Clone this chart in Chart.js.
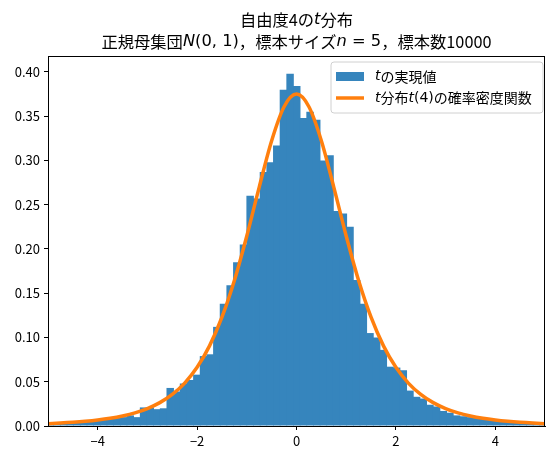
<!DOCTYPE html>
<html>
<head>
<meta charset="utf-8">
<script src="https://cdn.jsdelivr.net/npm/chart.js@4/dist/chart.umd.min.js"></script>
<style>
html,body{margin:0;padding:0;background:#fff;}
#wrap{width:553px;height:458px;position:relative;}
</style>
</head>
<body>
<div id="wrap"><canvas id="c" width="553" height="458"></canvas></div>
<script>
// ---- data ----
const binCenters = [-4.953,-4.819,-4.685,-4.551,-4.417,-4.283,-4.149,-4.015,-3.881,-3.747,
  -3.613,-3.479,-3.345,-3.211,-3.077,-2.943,-2.809,-2.675,-2.541,-2.407,
  -2.273,-2.139,-2.005,-1.871,-1.737,-1.603,-1.469,-1.335,-1.201,-1.067,
  -0.933,-0.799,-0.665,-0.531,-0.397,-0.263,-0.129,0.005,0.139,0.273,
  0.407,0.541,0.675,0.809,0.943,1.077,1.211,1.345,1.479,1.613,
  1.747,1.881,2.015,2.149,2.283,2.417,2.551,2.685,2.819,2.953,
  3.087,3.221,3.355,3.489,3.623,3.757,3.891,4.025,4.159,4.293,
  4.427,4.561,4.695,4.829,4.963];
const histDensity = [0.003,0.003,0.004,0.004,0.005,0.004,0.006,0.006,0.007,0.008,
  0.009,0.010,0.012,0.010,0.021,0.021,0.019,0.020,0.043,0.039,
  0.048,0.052,0.058,0.079,0.081,0.112,0.138,0.159,0.185,0.205,
  0.260,0.257,0.287,0.298,0.317,0.380,0.398,0.384,0.348,0.355,
  0.346,0.300,0.306,0.243,0.240,0.225,0.165,0.138,0.105,0.100,
  0.086,0.067,0.066,0.063,0.040,0.033,0.031,0.024,0.022,0.017,
  0.015,0.012,0.011,0.010,0.009,0.008,0.007,0.006,0.006,0.005,
  0.005,0.004,0.004,0.003,0.003];
const curveX = [-5,-4.75,-4.5,-4.25,-4,-3.75,-3.5,-3.25,-3,-2.75,-2.5,-2.25,-2,-1.75,-1.5,-1.25,-1,-0.75,-0.5,-0.25,
  0,0.25,0.5,0.75,1,1.25,1.5,1.75,2,2.25,2.5,2.75,3,3.25,3.5,3.75,4,4.25,4.5,4.75,5];
const curveY = [0.00265,0.00330,0.00414,0.00525,0.00671,0.00866,0.0113,0.0148,0.0197,0.0264,0.0357,0.0485,0.0663,0.0905,0.1229,0.1644,0.2147,0.2699,0.3223,0.3607,
  0.375,0.3607,0.3223,0.2699,0.2147,0.1644,0.1229,0.0905,0.0663,0.0485,0.0357,0.0264,0.0197,0.0148,0.0113,0.00866,0.00671,0.00525,0.00414,0.00330,0.00265];
const xTicks = [-4,-2,0,2,4];
const yTicks = [0,0.05,0.10,0.15,0.20,0.25,0.30,0.35,0.40];
const seriesLabels = ["tの実現値","t分布t(4)の確率密度関数"];
// rich-text runs: [text, style]  style: 'jp' | 'mi' (math italic) | 'mr' (math roman)
const titleLine1 = [["自由度4の","jp"],["t","mi"],["分布","jp"]];
const titleLine2 = [["正規母集団","jp"],["N","mi"],["(0, 1)","mr"],["，標本サイズ","jp"],["n","mi"],[" = 5","mr"],["，標本数10000","jp"]];
const legendRuns = [
  [["t","mi"],["の実現値","jp"]],
  [["t","mi"],["分布","jp"],["t","mi"],["(4)","mr"],["の確率密度関数","jp"]]
];

const BAR_COLOR = "rgb(54,133,189)";
const LINE_COLOR = "#ff7f0e";
const JP = '"Noto Sans CJK JP", "DejaVu Sans", sans-serif';

function fontFor(style, size){
  if (style === "mi") return "italic " + size + "px \"DejaVu Sans\"";
  if (style === "mr") return size + "px \"DejaVu Sans\"";
  return size + "px " + JP;
}
function drawRuns(ctx, runs, x, y, size, align){
  let total = 0;
  const widths = runs.map(r => { ctx.font = fontFor(r[1], size); const w = ctx.measureText(r[0]).width; total += w; return w; });
  let cx = align === "center" ? x - total/2 : x;
  ctx.textBaseline = "middle";
  ctx.textAlign = "left";
  runs.forEach((r,i) => { ctx.font = fontFor(r[1], size); ctx.fillText(r[0], cx, y); cx += widths[i]; });
}

const decor = {
  id: "decor",
  afterDraw(chart){
    const ctx = chart.ctx, a = chart.chartArea;
    ctx.save();
    // frame
    ctx.strokeStyle = "#000"; ctx.lineWidth = 1;
    ctx.strokeRect(Math.round(a.left)+0.5, Math.round(a.top)+0.5, Math.round(a.right-a.left)-1, Math.round(a.bottom-a.top));
    // title
    ctx.fillStyle = "#000";
    const cx = (a.left + a.right)/2;
    drawRuns(ctx, titleLine1, cx, 20, 16.3, "center");
    drawRuns(ctx, titleLine2, cx, 42, 16.3, "center");
    // legend
    const lx = 331, ly = 62, lw = 212, lh = 51, r = 3;
    ctx.beginPath();
    ctx.moveTo(lx+r, ly); ctx.lineTo(lx+lw-r, ly); ctx.quadraticCurveTo(lx+lw, ly, lx+lw, ly+r);
    ctx.lineTo(lx+lw, ly+lh-r); ctx.quadraticCurveTo(lx+lw, ly+lh, lx+lw-r, ly+lh);
    ctx.lineTo(lx+r, ly+lh); ctx.quadraticCurveTo(lx, ly+lh, lx, ly+lh-r);
    ctx.lineTo(lx, ly+r); ctx.quadraticCurveTo(lx, ly, lx+r, ly);
    ctx.closePath();
    ctx.fillStyle = "rgba(255,255,255,0.8)"; ctx.fill();
    ctx.strokeStyle = "#d0d0d0"; ctx.lineWidth = 1; ctx.stroke();
    ctx.fillStyle = BAR_COLOR;
    ctx.fillRect(336, 72, 28, 9);
    ctx.strokeStyle = LINE_COLOR; ctx.lineWidth = 3.5; ctx.lineCap = "butt";
    ctx.beginPath(); ctx.moveTo(336, 98); ctx.lineTo(364, 98); ctx.stroke();
    ctx.fillStyle = "#000";
    drawRuns(ctx, legendRuns[0], 375, 76.5, 14, "left");
    drawRuns(ctx, legendRuns[1], 375, 98, 14, "left");
    ctx.restore();
  }
};

new Chart(document.getElementById("c"), {
  type: "bar",
  data: {
    datasets: [
      {
        type: "line",
        label: seriesLabels[1],
        data: curveX.map((x,i) => ({x: x, y: curveY[i]})),
        borderColor: LINE_COLOR,
        borderWidth: 3.5,
        pointRadius: 0,
        fill: false,
        cubicInterpolationMode: "monotone",
        order: 0
      },
      {
        type: "bar",
        label: seriesLabels[0],
        data: binCenters.map((x,i) => ({x: x, y: histDensity[i]})),
        backgroundColor: BAR_COLOR,
        borderWidth: 0,
        barPercentage: 1.12,
        categoryPercentage: 1.0,
        grouped: false,
        order: 1
      }
    ]
  },
  options: {
    responsive: false,
    animation: false,
    devicePixelRatio: 1,
    layout: { padding: { top: 56, right: 8, left: 0, bottom: 0 } },
    plugins: { legend: { display: false }, title: { display: false }, tooltip: { enabled: false } },
    scales: {
      x: {
        type: "linear", min: -5, max: 5, offset: false,
        afterBuildTicks: s => { s.ticks = xTicks.map(v => ({value: v})); },
        afterFit: s => { s.height = 32; },
        grid: { display: true, drawOnChartArea: false, drawTicks: true, tickLength: 4, color: "#000", offset: false },
        border: { display: true, color: "#000", width: 1 },
        ticks: { color: "#000", padding: 3, font: { family: JP, size: 13 }, maxRotation: 0,
                 callback: v => (v < 0 ? "\u2212" + Math.abs(v) : String(v)) }
      },
      y: {
        type: "linear", min: 0, max: 0.418,
        afterBuildTicks: s => { s.ticks = yTicks.map(v => ({value: v})); },
        afterFit: s => { s.width = 48; },
        grid: { display: true, drawOnChartArea: false, drawTicks: true, tickLength: 4, color: "#000" },
        border: { display: true, color: "#000", width: 1 },
        ticks: { color: "#000", padding: 4, font: { family: JP, size: 13 }, callback: v => Number(v).toFixed(2) }
      }
    }
  },
  plugins: [decor]
});
</script>
</body>
</html>
